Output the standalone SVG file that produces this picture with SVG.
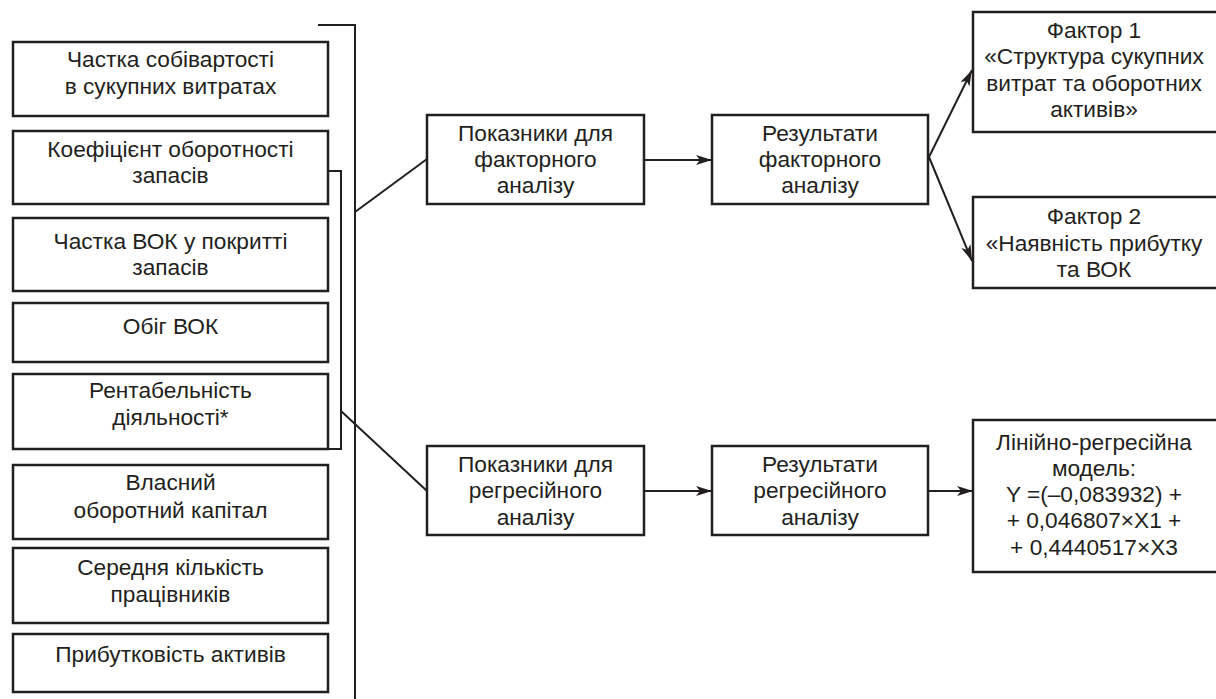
<svg xmlns="http://www.w3.org/2000/svg" width="1216" height="699" viewBox="0 0 1216 699">
<style>
.box{fill:#fff;stroke:#231f20;stroke-width:2.5}
.ln{fill:none;stroke:#231f20;stroke-width:2}
text{font-family:"Liberation Sans",Arial,sans-serif;font-size:22.7px;fill:#231f20;text-anchor:middle}
</style>
<defs>
<marker id="ah" viewBox="0 0 16 10" refX="16" refY="5" markerWidth="16" markerHeight="10" markerUnits="userSpaceOnUse" orient="auto">
<path d="M0,0 L16,5 L0,10 L4,5 Z" fill="#231f20"/>
</marker>
</defs>
<rect width="1216" height="699" fill="#fff"/>
<g id="connectors">
<polyline class="ln" points="318,25 355,25 355,699"/>
<polyline class="ln" points="328,171 341,171 341,449 328,449"/>
<line class="ln" x1="355" y1="212" x2="427" y2="159"/>
<line class="ln" x1="341" y1="411" x2="427" y2="491"/>
<line class="ln" x1="645" y1="160" x2="712" y2="160" marker-end="url(#ah)"/>
<line class="ln" x1="645" y1="491" x2="712" y2="491" marker-end="url(#ah)"/>
<line class="ln" x1="929" y1="157" x2="972" y2="70" marker-end="url(#ah)"/>
<line class="ln" x1="929" y1="157" x2="972" y2="261" marker-end="url(#ah)"/>
<line class="ln" x1="929" y1="491" x2="973" y2="491" marker-end="url(#ah)"/>
</g>
<g id="n1"><rect class="box" x="13" y="42" width="315" height="74"/><text x="170.5" y="67">Частка собівартості</text><text x="170.5" y="94">в сукупних витратах</text></g>
<g id="n2"><rect class="box" x="13" y="131" width="315" height="73"/><text x="170.5" y="157">Коефіцієнт оборотності</text><text x="170.5" y="183">запасів</text></g>
<g id="n3"><rect class="box" x="13" y="218" width="315" height="73"/><text x="170.5" y="249">Частка ВОК у покритті</text><text x="170.5" y="275">запасів</text></g>
<g id="n4"><rect class="box" x="13" y="303" width="315" height="59"/><text x="170.5" y="334">Обіг ВОК</text></g>
<g id="n5"><rect class="box" x="13" y="374" width="315" height="75"/><text x="170.5" y="398">Рентабельність</text><text x="170.5" y="425">діяльності*</text></g>
<g id="n6"><rect class="box" x="13" y="465" width="315" height="74"/><text x="170.5" y="490">Власний</text><text x="170.5" y="518">оборотний капітал</text></g>
<g id="n7"><rect class="box" x="13" y="548" width="315" height="75"/><text x="170.5" y="575">Середня кількість</text><text x="170.5" y="602">працівників</text></g>
<g id="n8"><rect class="box" x="13" y="634" width="315" height="58"/><text x="170.5" y="662">Прибутковість активів</text></g>
<g id="f_ind"><rect class="box" x="427" y="115" width="217" height="89"/><text x="535.5" y="141">Показники для</text><text x="535.5" y="167">факторного</text><text x="535.5" y="193">аналізу</text></g>
<g id="f_res"><rect class="box" x="712" y="115" width="216" height="89"/><text x="820" y="141">Результати</text><text x="820" y="167">факторного</text><text x="820" y="193">аналізу</text></g>
<g id="r_ind"><rect class="box" x="427" y="446" width="217" height="89"/><text x="535.5" y="472">Показники для</text><text x="535.5" y="498">регресійного</text><text x="535.5" y="525">аналізу</text></g>
<g id="r_res"><rect class="box" x="712" y="446" width="216" height="89"/><text x="820" y="472">Результати</text><text x="820" y="498">регресійного</text><text x="820" y="525">аналізу</text></g>
<g id="fac1"><rect class="box" x="973" y="12" width="260" height="120"/><text x="1094" y="38">Фактор 1</text><text x="1094" y="64">«Структура сукупних</text><text x="1094" y="91">витрат та оборотних</text><text x="1094" y="117">активів»</text></g>
<g id="fac2"><rect class="box" x="973" y="197" width="260" height="91"/><text x="1094" y="224">Фактор 2</text><text x="1094" y="251">«Наявність прибутку</text><text x="1094" y="277">та ВОК</text></g>
<g id="model"><rect class="box" x="973" y="420" width="260" height="152"/><text x="1094" y="450">Лінійно-регресійна</text><text x="1094" y="476">модель:</text><text x="1094" y="502">Y =(–0,083932) +</text><text x="1094" y="528">+ 0,046807×X1 +</text><text x="1094" y="555">+ 0,4440517×X3</text></g>
</svg>
